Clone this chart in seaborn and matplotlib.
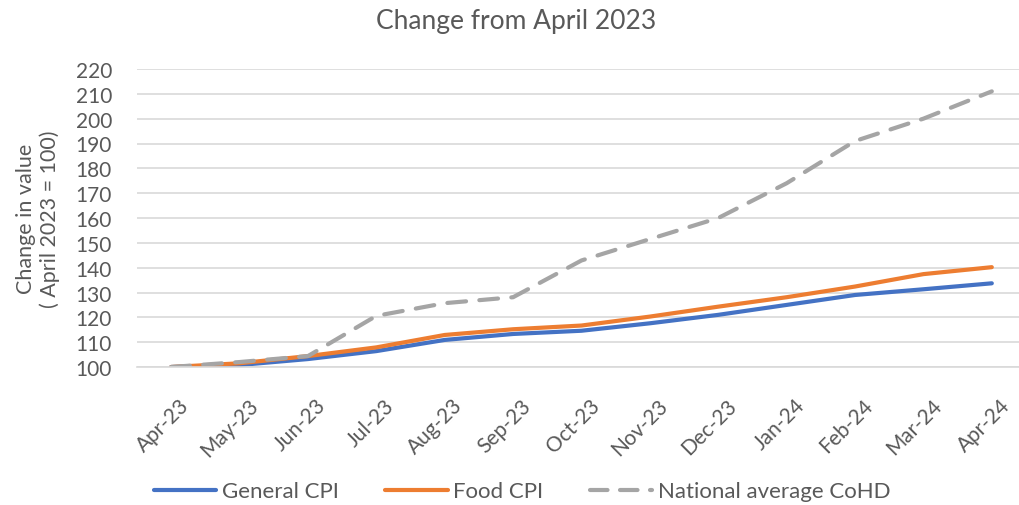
import numpy as np
import pandas as pd
import matplotlib.pyplot as plt
import matplotlib.transforms as mtransforms
import seaborn as sns

months = ["Apr-23", "May-23", "Jun-23", "Jul-23", "Aug-23", "Sep-23", "Oct-23",
          "Nov-23", "Dec-23", "Jan-24", "Feb-24", "Mar-24", "Apr-24"]
general_cpi = [100, 100.8, 103.2, 106.4, 110.9, 113.3, 114.6, 117.6, 121.0, 125.0, 129.0, 131.3, 133.7]
food_cpi = [100, 101.5, 104.4, 107.9, 112.9, 115.2, 116.7, 120.3, 124.3, 128.1, 132.4, 137.4, 140.2]
cohd = [100, 102.0, 104.4, 120.6, 125.7, 128.1, 142.9, 151.5, 160.0, 174.0, 191.0, 200.0, 211.0]

series = ["General CPI", "Food CPI", "National average CoHD"]
colors = ["#4472C4", "#ED7D31", "#A5A5A5"]

df = pd.DataFrame({
    "x": list(range(len(months))) * 3,
    "value": general_cpi + food_cpi + cohd,
    "series": [s for s in series for _ in months],
})

sns.set_style("white")
plt.rcParams["font.family"] = ["Lato", "DejaVu Sans"]

fig = plt.figure(figsize=(10.2, 5.06), dpi=100)
ax = fig.add_axes([137 / 1020, 138 / 506, 889 / 1020, 298 / 506])

sns.lineplot(data=df, x="x", y="value", hue="series", style="series",
             palette=dict(zip(series, colors)),
             dashes={"General CPI": "", "Food CPI": "", "National average CoHD": (4.5, 3.2)},
             linewidth=3, ax=ax, legend=False)
for line in ax.get_lines():
    line.set_solid_capstyle("round")
    line.set_dash_capstyle("round")

ax.set_xlim(-0.5, 12.5)
ax.set_ylim(100, 220)
ax.set_yticks(np.arange(100, 221, 10))
ax.set_xticks(range(len(months)))
ax.set_xticklabels(months, rotation=45, ha="right", rotation_mode="anchor")
ax.set_xticks(np.arange(-0.5, 12.6, 1), minor=True)
ax.tick_params(axis="x", which="major", length=0, pad=20, labelsize=15, labelcolor="#595959")
ax.tick_params(axis="x", which="minor", length=5, width=1.2, color="#D9D9D9")
ax.tick_params(axis="y", length=0, labelsize=15, labelcolor="#595959", pad=18)

# nudge the slanted month labels to the right, as in the original
shift = mtransforms.ScaledTranslation(8 / 100, 0, fig.dpi_scale_trans)
for lab in ax.get_xticklabels():
    lab.set_transform(lab.get_transform() + shift)

ax.grid(axis="y", color="#D9D9D9", linewidth=1.2)
ax.set_axisbelow(True)
for side in ["top", "right", "left"]:
    ax.spines[side].set_visible(False)
ax.spines["bottom"].set_color("#D9D9D9")
ax.spines["bottom"].set_linewidth(1.2)

ax.set_xlabel("")
ax.set_ylabel("Change in value\n( April 2023 = 100)", fontsize=15.5, color="#595959",
              labelpad=11, linespacing=1.2)

fig.suptitle("Change from April 2023", x=0.506, y=0.957, va="center", fontsize=19, color="#595959")

handles = [plt.Line2D([], [], color=colors[0], lw=3, solid_capstyle="round"),
           plt.Line2D([], [], color=colors[1], lw=3, solid_capstyle="round"),
           plt.Line2D([], [], color=colors[2], lw=3, dashes=(4.2, 3.0), dash_capstyle="round")]
fig.legend(handles, series, loc="center", bbox_to_anchor=(0.512, 0.027), ncol=3,
           frameon=False, fontsize=16, labelcolor="#595959", handlelength=2.8,
           handletextpad=0.25, columnspacing=2.1)

fig.savefig("out.png", dpi=100)
